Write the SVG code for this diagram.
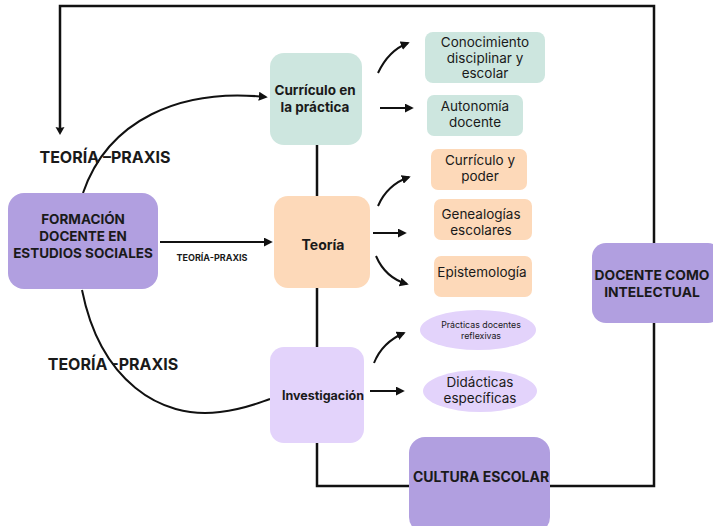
<svg xmlns="http://www.w3.org/2000/svg" width="713" height="526" viewBox="0 0 713 526">
<style>
text{font-family:Inter,"Open Sans","Liberation Sans",sans-serif;fill:#1a1a1a;text-anchor:middle}
.b{font-weight:700}
.n{font-size:13.5px}
.line{stroke:#111;stroke-width:2.5;fill:none}
.arr{stroke:#111;stroke-width:2;fill:none;marker-end:url(#ah)}
.teal{fill:#cde6df}.peach{fill:#fdd9b9}.lav{fill:#e3d3fb}.pur{fill:#b19fe0}
</style>
<defs>
<marker id="ah" viewBox="0 0 10 10" refX="8" refY="5" markerWidth="4.5" markerHeight="4.5" orient="auto"><path d="M0,0L10,5L0,10z" fill="#111"/></marker>
</defs>
<g id="connectors">
<polyline class="line" points="60,128 60,6 654,6 654,243"/>
<path d="M60,128 l-4.5,-1 l4.5,8 l4.5,-8z" fill="#111"/>
<polyline class="line" points="654,323 654,486 550,486"/>
<polyline class="line" points="409,486 317,486 317,443"/>
<line class="line" x1="317" y1="145" x2="317" y2="197"/>
<line class="line" x1="317" y1="288" x2="317" y2="347"/>
<path class="arr" d="M83,193 C108,120 180,88 266,97"/>
<path class="arr" d="M160,242 L271,242"/>
<path class="line" style="stroke-width:2" d="M82,290 C100,380 160,420 220,412 C245,409 258,403 270,399"/>
<path class="arr" d="M378,73 C385,58 395,48 408,43"/>
<path class="arr" d="M380,108 L412,108"/>
<path class="arr" d="M378,206 C384,192 395,182 409,177"/>
<path class="arr" d="M373,233 L405,233"/>
<path class="arr" d="M376,256 C382,270 393,280 407,284"/>
<path class="arr" d="M374,363 C380,348 390,339 404,333"/>
<path class="arr" d="M370,391 L403,391"/>
</g>
<g id="lbl1"><text class="b" x="105" y="163" font-size="16">TEORÍA –PRAXIS</text></g>
<g id="lbl2"><text class="b" x="212" y="261" font-size="9">TEORÍA-PRAXIS</text></g>
<g id="lbl3"><text class="b" x="113" y="370" font-size="16">TEORÍA -PRAXIS</text></g>
<g id="formacion"><rect class="pur" x="8" y="193" width="150" height="96" rx="16"/>
<text class="b" x="83" y="224" font-size="13.5">FORMACIÓN</text>
<text class="b" x="83" y="241" font-size="13.5">DOCENTE EN</text>
<text class="b" x="83" y="258" font-size="13.5">ESTUDIOS SOCIALES</text></g>
<g id="curriculo"><rect class="teal" x="270" y="53" width="92" height="92" rx="14"/>
<text class="b" x="315" y="95" font-size="13.5">Currículo en</text>
<text class="b" x="315" y="112" font-size="13.5">la práctica</text></g>
<g id="teoria"><rect class="peach" x="274" y="196" width="96" height="92" rx="14"/>
<text class="b" x="323" y="250" font-size="14">Teoría</text></g>
<g id="investigacion"><rect class="lav" x="270" y="347" width="94" height="96" rx="14"/>
<text class="b" x="323" y="400" font-size="12.5">Investigación</text></g>
<g id="conocimiento"><rect class="teal" x="425" y="32" width="120" height="51" rx="8"/>
<text class="n" x="485" y="47">Conocimiento</text>
<text class="n" x="485" y="62.5">disciplinar y</text>
<text class="n" x="485" y="78">escolar</text></g>
<g id="autonomia"><rect class="teal" x="427" y="95" width="96" height="41" rx="7"/>
<text class="n" x="475" y="111">Autonomía</text>
<text class="n" x="475" y="127">docente</text></g>
<g id="poder"><rect class="peach" x="431" y="149" width="96" height="41" rx="7"/>
<text class="n" x="480" y="165">Currículo y</text>
<text class="n" x="480" y="181">poder</text></g>
<g id="genealogias"><rect class="peach" x="434" y="199" width="98" height="41" rx="7"/>
<text class="n" x="481" y="219">Genealogías</text>
<text class="n" x="481" y="235">escolares</text></g>
<g id="epistemologia"><rect class="peach" x="434" y="256" width="98" height="41" rx="7"/>
<text class="n" x="482" y="277">Epistemología</text></g>
<g id="practicas"><ellipse class="lav" cx="478" cy="330" rx="58" ry="20"/>
<text x="481" y="328" font-size="8.8">Prácticas docentes</text>
<text x="481" y="339" font-size="8.8">reflexivas</text></g>
<g id="didacticas"><ellipse class="lav" cx="480" cy="391" rx="57" ry="21"/>
<text x="480" y="387" font-size="13.5">Didácticas</text>
<text x="480" y="403" font-size="13.5">específicas</text></g>
<g id="cultura"><rect class="pur" x="409" y="437" width="141" height="96" rx="16"/>
<text class="b" x="481" y="482" font-size="14">CULTURA ESCOLAR</text></g>
<g id="docente"><rect class="pur" x="592" y="243" width="130" height="80" rx="14"/>
<text class="b" x="652" y="280" font-size="13.8">DOCENTE COMO</text>
<text class="b" x="652" y="297" font-size="13.8">INTELECTUAL</text></g>
</svg>
